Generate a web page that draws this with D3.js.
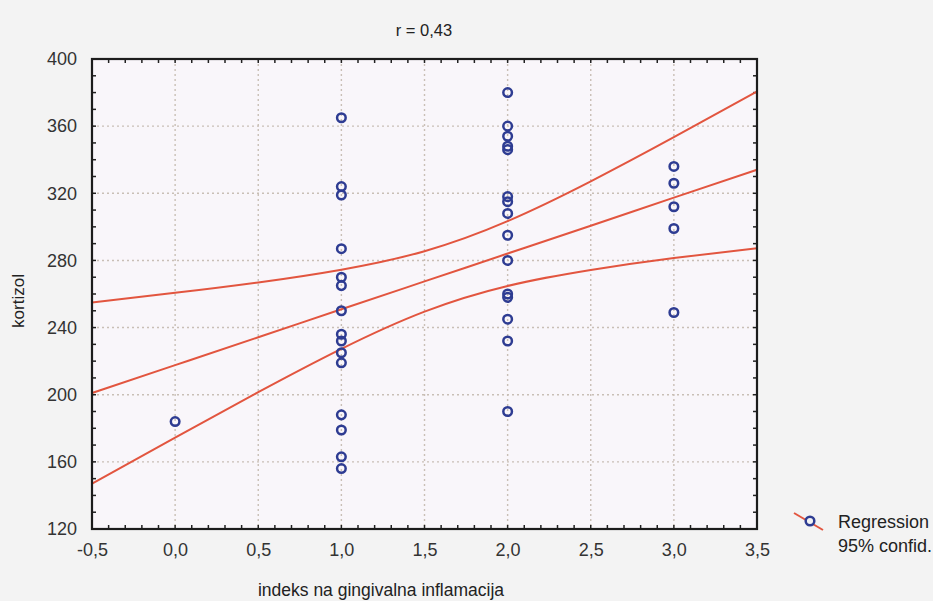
<!DOCTYPE html>
<html>
<head>
<meta charset="utf-8">
<script src="https://cdn.jsdelivr.net/npm/d3@7"></script>
<style>
  body { margin: 0; background: #f3f3f3; }
  svg { display: block; font-family: "Liberation Sans", Arial, sans-serif; }
  .tick text { fill: #333; }
</style>
</head>
<body>
<div id="chart"></div>
<script>
// data
var gingIndex = [0,
  1, 1, 1, 1, 1, 1, 1, 1, 1, 1, 1, 1, 1, 1, 1,
  2, 2, 2, 2, 2, 2, 2, 2, 2, 2, 2, 2, 2, 2, 2,
  3, 3, 3, 3, 3];
var kortizol = [184,
  365, 324, 319, 287, 270, 265, 250, 236, 232, 225, 219, 188, 179, 163, 156,
  380, 360, 354, 348, 346, 318, 315, 308, 295, 280, 260, 258, 245, 232, 190,
  336, 326, 312, 299, 249];

// regression line and 95% band read at these x positions
var bandX = [-0.5, 0, 0.5, 1, 1.5, 2, 2.5, 3, 3.5];
var fitY = [201, 217.6, 234.2, 250.9, 267.5, 284.1, 300.7, 317.4, 334];
var upperY = [255, 260.7, 266.9, 274.5, 285.5, 303.4, 327.1, 353.4, 380.7];
var lowerY = [147, 174.5, 201.5, 227.3, 249.5, 264.8, 274.3, 281.4, 287.3];

var xTicks = [-0.5, 0, 0.5, 1, 1.5, 2, 2.5, 3, 3.5];
var yTicks = [120, 160, 200, 240, 280, 320, 360, 400];
var title = "r = 0,43";
var legendLabels = ["Regression", "95% confid."];

var width = 933, height = 601;
var pLeft = 92, pRight = 757, pTop = 59, pBottom = 529;

var svg = d3.select("#chart").append("svg")
  .attr("width", width)
  .attr("height", height);

var x = d3.scaleLinear().domain([-0.5, 3.5]).range([pLeft, pRight]);
var y = d3.scaleLinear().domain([120, 400]).range([pBottom, pTop]);

var fmt = function(d) { return d3.format(".1f")(d).replace(".", ",").replace("\u2212", "-"); };

// plot background
svg.append("rect")
  .attr("x", pLeft).attr("y", pTop)
  .attr("width", pRight - pLeft).attr("height", pBottom - pTop)
  .attr("fill", "#f9f6fa");

// grid
svg.append("g").selectAll("line")
  .data(xTicks.slice(1, -1))
  .enter().append("line")
  .attr("x1", function(d) { return x(d); })
  .attr("x2", function(d) { return x(d); })
  .attr("y1", pTop).attr("y2", pBottom)
  .attr("stroke", "#c9bfb6").attr("stroke-width", 1.4)
  .attr("stroke-dasharray", "2,3");
svg.append("g").selectAll("line")
  .data(yTicks.slice(1, -1))
  .enter().append("line")
  .attr("y1", function(d) { return y(d); })
  .attr("y2", function(d) { return y(d); })
  .attr("x1", pLeft).attr("x2", pRight)
  .attr("stroke", "#c9bfb6").attr("stroke-width", 1.4)
  .attr("stroke-dasharray", "2,3");

// minor ticks pointing inward on all four sides
var xMinor = d3.range(-0.5, 3.51, 0.1);
var yMinor = d3.range(120, 401, 10);
var minor = svg.append("g").attr("stroke", "#222").attr("stroke-width", 1.5);
xMinor.forEach(function(d) {
  minor.append("line").attr("x1", x(d)).attr("x2", x(d)).attr("y1", pBottom).attr("y2", pBottom - 4);
  minor.append("line").attr("x1", x(d)).attr("x2", x(d)).attr("y1", pTop).attr("y2", pTop + 4);
});
yMinor.forEach(function(d) {
  minor.append("line").attr("y1", y(d)).attr("y2", y(d)).attr("x1", pLeft).attr("x2", pLeft + 4);
  minor.append("line").attr("y1", y(d)).attr("y2", y(d)).attr("x1", pRight).attr("x2", pRight - 4);
});

// axes (labels only, the frame is drawn below)
var xAxis = d3.axisBottom(x).tickValues(xTicks).tickFormat(fmt).tickSize(0).tickPadding(14);
var yAxis = d3.axisLeft(y).tickValues(yTicks).tickSize(0).tickPadding(15);
svg.append("g")
  .attr("transform", "translate(0," + pBottom + ")")
  .call(xAxis)
  .call(function(g) { g.select(".domain").remove(); })
  .selectAll("text").attr("font-size", 18);
svg.append("g")
  .attr("transform", "translate(" + pLeft + ",0)")
  .call(yAxis)
  .call(function(g) { g.select(".domain").remove(); })
  .selectAll("text").attr("font-size", 18);

// band and fit
var line = d3.line()
  .x(function(d) { return x(d[0]); })
  .y(function(d) { return y(d[1]); })
  .curve(d3.curveNatural);
[upperY, fitY, lowerY].forEach(function(arr) {
  svg.append("path")
    .datum(bandX.map(function(v, i) { return [v, arr[i]]; }))
    .attr("d", line)
    .attr("fill", "none")
    .attr("stroke", "#e2553f")
    .attr("stroke-width", 2);
});

// points
svg.append("g").selectAll("circle")
  .data(kortizol)
  .enter().append("circle")
  .attr("cx", function(d, i) { return x(gingIndex[i]); })
  .attr("cy", function(d) { return y(d); })
  .attr("r", 4.3)
  .attr("fill", "none")
  .attr("stroke", "#2e3c92")
  .attr("stroke-width", 2.5);

// frame
svg.append("rect")
  .attr("x", pLeft).attr("y", pTop)
  .attr("width", pRight - pLeft).attr("height", pBottom - pTop)
  .attr("fill", "none")
  .attr("stroke", "#1c1c1c")
  .attr("stroke-width", 2.2);

// titles
svg.append("text")
  .attr("x", 424).attr("y", 36)
  .attr("text-anchor", "middle")
  .attr("font-size", 16.5).attr("fill", "#222")
  .text(title);
svg.append("text")
  .attr("x", 381).attr("y", 596)
  .attr("text-anchor", "middle")
  .attr("font-size", 17.5).attr("fill", "#222")
  .text("indeks na gingivalna inflamacija");
svg.append("text")
  .attr("transform", "translate(24,301) rotate(-90)")
  .attr("text-anchor", "middle")
  .attr("font-size", 17).attr("fill", "#222")
  .text("kortizol");

// legend
var lg = svg.append("g");
lg.append("line")
  .attr("x1", 794).attr("y1", 513).attr("x2", 823).attr("y2", 530)
  .attr("stroke", "#e2553f").attr("stroke-width", 2);
lg.append("circle")
  .attr("cx", 810).attr("cy", 521).attr("r", 4.3)
  .attr("fill", "#f3f3f3").attr("stroke", "#2e3c92").attr("stroke-width", 2.5);
lg.selectAll("text")
  .data(legendLabels)
  .enter().append("text")
  .attr("x", 838)
  .attr("y", function(d, i) { return 528 + i * 24; })
  .attr("font-size", 18).attr("fill", "#222")
  .text(function(d) { return d; });
</script>
</body>
</html>
